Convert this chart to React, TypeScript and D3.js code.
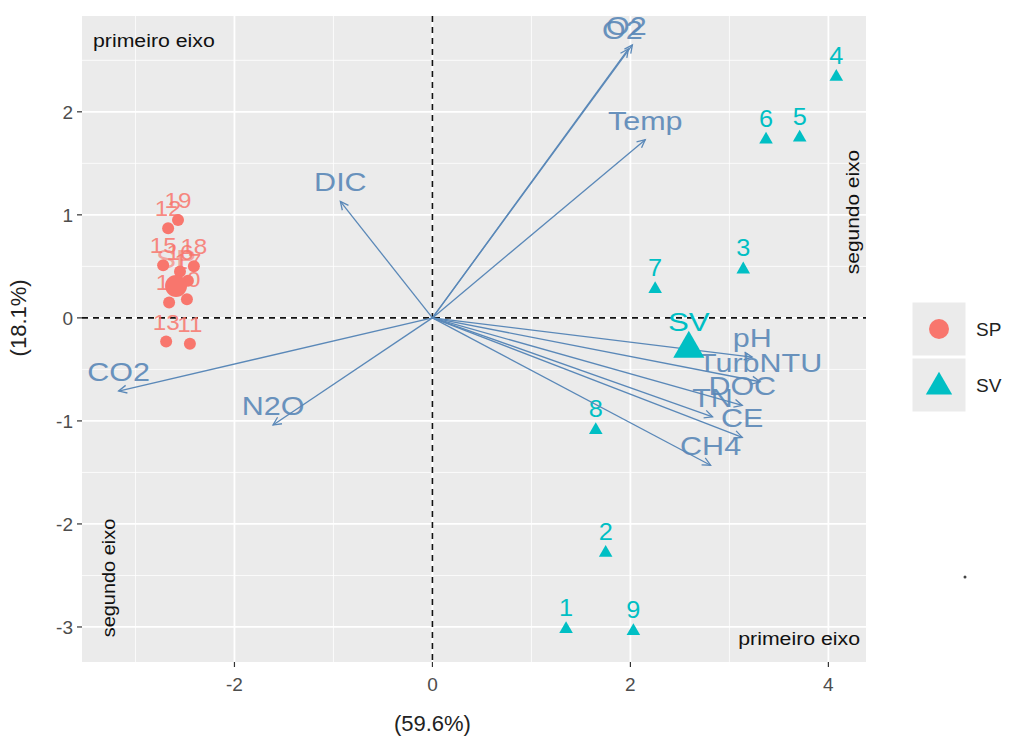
import React from 'react';
import * as d3 from 'd3';

// individuals (PC1, PC2)
const svNames = ['1', '2', '3', '4', '5', '6', '7', '8', '9'];
const svX = [1.35, 1.75, 3.14, 4.08, 3.71, 3.37, 2.25, 1.65, 2.03];
const svY = [-3.02, -2.28, 0.47, 2.34, 1.75, 1.73, 0.28, -1.09, -3.04];

const spNames = ['10', '11', '12', '13', '14', '15', '16', '17', '18', '19'];
const spX = [-2.48, -2.45, -2.67, -2.69, -2.66, -2.72, -2.55, -2.47, -2.41, -2.57];
const spY = [0.18, -0.25, 0.87, -0.23, 0.15, 0.51, 0.45, 0.36, 0.5, 0.95];

const groups = ['SP', 'SV'];
const groupX = [-2.59, 2.59];
const groupY = [0.31, -0.3];
const groupColors = ['#F8766D', '#00BFC4'];

// variables (loadings, scaled)
const varNames = ['O2', 'O2', 'Temp', 'DIC', 'CO2', 'N2O', 'pH', 'TurbNTU', 'DOC', 'TN', 'CE', 'CH4'];
const varX = [1.98, 2.02, 2.15, -0.93, -3.17, -1.61, 3.23, 3.31, 3.13, 2.83, 3.13, 2.81];
const varY = [2.61, 2.65, 1.73, 1.13, -0.71, -1.04, -0.38, -0.62, -0.85, -0.96, -1.16, -1.43];

const xTicks = [-2, 0, 2, 4];
const yTicks = [-3, -2, -1, 0, 1, 2];

const W = 1013;
const H = 742;
const left = 82, right = 866, top = 16, bottom = 662;
const font = 'Liberation Sans, Arial, sans-serif';
const arrowColor = '#5A88B8';

const x = d3.scaleLinear().domain([-3.54, 4.38]).range([left, right]);
const y = d3.scaleLinear().domain([2.93, -3.34]).range([top, bottom]);

const tri = d3.symbol().type(d3.symbolTriangle);

function arrowHead(x1: number, y1: number, x2: number, y2: number) {
  const a = Math.atan2(y2 - y1, x2 - x1);
  const len = 9, sp = 0.45;
  const p1 = [x2 - len * Math.cos(a - sp), y2 - len * Math.sin(a - sp)];
  const p2 = [x2 - len * Math.cos(a + sp), y2 - len * Math.sin(a + sp)];
  return `M${p1[0]},${p1[1]}L${x2},${y2}L${p2[0]},${p2[1]}`;
}

// the original text looks stretched sideways
const Wide = ({ tx, ty, s = 1.2, rot = 0, children, ...rest }: any) => (
  <text transform={`translate(${tx},${ty}) rotate(${rot}) scale(${s},1)`} {...rest}>{children}</text>
);

export default function App() {
  const minorX = d3.range(-3, 5, 2);
  const minorY = d3.range(-2.5, 3, 1);
  return (
    <svg width={W} height={H} style={{ position: 'absolute', left: 0, top: 0, background: '#fff' }} fontFamily={font}>
      <rect x={left} y={top} width={right - left} height={bottom - top} fill="#EBEBEB" />
      {minorX.map(v => (
        <line key={'mx' + v} x1={x(v)} x2={x(v)} y1={top} y2={bottom} stroke="#fff" strokeWidth={0.8} />
      ))}
      {minorY.map(v => (
        <line key={'my' + v} y1={y(v)} y2={y(v)} x1={left} x2={right} stroke="#fff" strokeWidth={0.8} />
      ))}
      {xTicks.map(v => (
        <line key={'gx' + v} x1={x(v)} x2={x(v)} y1={top} y2={bottom} stroke="#fff" strokeWidth={1.8} />
      ))}
      {yTicks.map(v => (
        <line key={'gy' + v} y1={y(v)} y2={y(v)} x1={left} x2={right} stroke="#fff" strokeWidth={1.8} />
      ))}
      <line x1={x(0)} x2={x(0)} y1={top} y2={bottom} stroke="#111" strokeWidth={1.6} strokeDasharray="6,5" />
      <line y1={y(0)} y2={y(0)} x1={left} x2={right} stroke="#111" strokeWidth={1.6} strokeDasharray="6,5" />

      {/* SP individuals */}
      {spNames.map((n, i) => (
        <circle key={'sp' + n} cx={x(spX[i])} cy={y(spY[i])} r={6} fill={groupColors[0]} />
      ))}
      {spNames.map((n, i) => (
        <Wide key={'spl' + n} tx={x(spX[i])} ty={y(spY[i]) - 12} s={1.1} textAnchor="middle" fontSize={22} fill={groupColors[0]} opacity={0.85}>{n}</Wide>
      ))}
      {/* SV individuals */}
      {svNames.map((n, i) => (
        <path key={'sv' + n} d={tri.size(80)()!} transform={`translate(${x(svX[i])},${y(svY[i])})`} fill={groupColors[1]} />
      ))}
      {svNames.map((n, i) => (
        <Wide key={'svl' + n} tx={x(svX[i])} ty={y(svY[i]) - 13} s={1.1} textAnchor="middle" fontSize={23} fill={groupColors[1]}>{n}</Wide>
      ))}

      {/* variable arrows */}
      {varNames.map((n, i) => {
        const x2 = x(varX[i]), y2 = y(varY[i]);
        return (
          <g key={'v' + i} stroke={arrowColor} strokeWidth={1.3} fill="none">
            <line x1={x(0)} y1={y(0)} x2={x2} y2={y2} />
            <path d={arrowHead(x(0), y(0), x2, y2)} />
          </g>
        );
      })}
      {varNames.map((n, i) => (
        <Wide key={'vl' + i} tx={x(varX[i]) - (n === 'O2' ? 6 : 0)} ty={y(varY[i]) - 10} s={1.22} textAnchor="middle" fontSize={25} fill={arrowColor} opacity={0.9}>{n}</Wide>
      ))}

      {/* group centroids */}
      <circle cx={x(groupX[0])} cy={y(groupY[0])} r={11} fill={groupColors[0]} />
      <path d={tri.size(420)()!} transform={`translate(${x(groupX[1])},${y(groupY[1])})`} fill={groupColors[1]} />
      <Wide tx={x(groupX[0])} ty={y(groupY[0]) - 18} s={1.2} textAnchor="middle" fontSize={25} fill={groupColors[0]} opacity={0.6}>{groups[0]}</Wide>
      <Wide tx={x(groupX[1])} ty={y(groupY[1]) - 18} s={1.2} textAnchor="middle" fontSize={26} fill={groupColors[1]}>{groups[1]}</Wide>

      {/* annotations */}
      <Wide tx={93} ty={47} s={1.12} fontSize={19} fill="#111">primeiro eixo</Wide>
      <Wide tx={860} ty={645} s={1.12} fontSize={19} fill="#111" textAnchor="end">primeiro eixo</Wide>
      <Wide tx={115} ty={578} rot={-90} s={1.05} fontSize={19} fill="#111" textAnchor="middle">segundo eixo</Wide>
      <Wide tx={859} ty={212} rot={-90} s={1.1} fontSize={19} fill="#111" textAnchor="middle">segundo eixo</Wide>

      {/* axes */}
      {xTicks.map(v => (
        <g key={'xt' + v}>
          <line x1={x(v)} x2={x(v)} y1={bottom} y2={bottom + 5} stroke="#333" strokeWidth={1.2} />
          <text x={x(v)} y={bottom + 29} textAnchor="middle" fontSize={19} fill="#4D4D4D">{v}</text>
        </g>
      ))}
      {yTicks.map(v => (
        <g key={'yt' + v}>
          <line x1={left - 5} x2={left} y1={y(v)} y2={y(v)} stroke="#333" strokeWidth={1.2} />
          <text x={left - 9} y={y(v) + 7} textAnchor="end" fontSize={19} fill="#4D4D4D">{v}</text>
        </g>
      ))}
      <text x={x(0)} y={731} textAnchor="middle" fontSize={22} fill="#222">(59.6%)</text>
      <text transform={`translate(26,${y(0)}) rotate(-90)`} textAnchor="middle" fontSize={22} fill="#222">(18.1%)</text>

      {/* legend */}
      {groups.map((g, i) => (
        <g key={'lg' + g} transform={`translate(912,${302 + i * 56})`}>
          <rect width={54} height={54} fill="#EBEBEB" stroke="#fff" strokeWidth={1} />
          {i === 0 ? (
            <circle cx={27} cy={27} r={10} fill={groupColors[i]} />
          ) : (
            <path d={tri.size(300)()!} transform="translate(27,29)" fill={groupColors[i]} />
          )}
          <text x={64} y={34} fontSize={19} fill="#222">{g}</text>
        </g>
      ))}
      <circle cx={965} cy={577} r={1.5} fill="#444" />
    </svg>
  );
}
